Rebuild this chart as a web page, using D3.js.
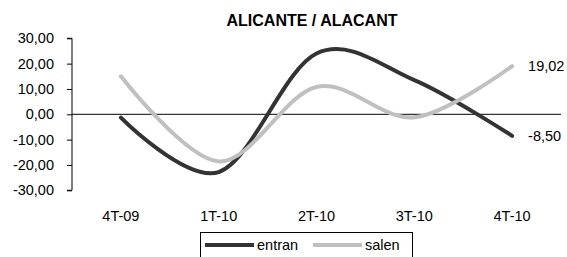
<!DOCTYPE html>
<html>
<head>
<meta charset="utf-8">
<script src="https://cdn.jsdelivr.net/npm/d3@7"></script>
<style>
  body { margin: 0; background: #fff; }
  text { font-family: "Liberation Sans", Arial, sans-serif; fill: #000; }
</style>
</head>
<body>
<div class="graph"></div>
<script>
var categories = ["4T-09", "1T-10", "2T-10", "3T-10", "4T-10"];
var entran = [-1.3, -22.8, 24.0, 13.5, -8.50];
var salen = [15.0, -18.6, 10.8, -1.2, 19.02];
var yTicks = [30, 20, 10, 0, -10, -20, -30];

var w = 567;
var h = 257;

var svg = d3.select("div.graph")
            .append("svg")
            .attr("width", w)
            .attr("height", h);

var x = d3.scaleBand().domain(categories).range([72, 561]);
var y = d3.scaleLinear().domain([-30, 30]).range([190.3, 38.3]);
var fmt = function(d){ return d3.format(".2f")(d).replace(".", ",").replace("−", "-"); };

// title
svg.append("text")
   .attr("x", 312)
   .attr("y", 26)
   .attr("text-anchor", "middle")
   .style("font-size", "16px")
   .style("font-weight", "bold")
   .text("ALICANTE / ALACANT");

// y axis
var yAxis = svg.append("g")
   .attr("transform", "translate(72,0)")
   .call(d3.axisLeft(y).tickValues(yTicks).tickSize(5).tickPadding(13).tickFormat(fmt));
yAxis.select(".domain").attr("stroke", "#000").attr("d", "M-5," + y(30) + "H0V" + y(-30) + "H-5");
yAxis.selectAll("text").style("font-size", "14.5px").style("font-family", "Liberation Sans, Arial, sans-serif");

// zero line
svg.append("line")
   .attr("x1", 72).attr("x2", 561)
   .attr("y1", y(0)).attr("y2", y(0))
   .attr("stroke", "#000").attr("stroke-width", 1);

// category labels
svg.selectAll("text.cat")
   .data(categories)
   .enter()
   .append("text")
   .attr("class", "cat")
   .attr("x", function(d){ return x(d) + x.bandwidth() / 2; })
   .attr("y", 221)
   .attr("text-anchor", "middle")
   .style("font-size", "14.5px")
   .text(function(d){ return d; });

var line = d3.line()
   .x(function(d, i){ return x(categories[i]) + x.bandwidth() / 2; })
   .y(function(d){ return y(d); })
   .curve(d3.curveCatmullRom.alpha(0));

var series = [
  { name: "entran", values: entran, color: "#333333" },
  { name: "salen", values: salen, color: "#c0c0c0" }
];

svg.selectAll("path.serie")
   .data(series)
   .enter()
   .append("path")
   .attr("class", "serie")
   .attr("fill", "none")
   .attr("stroke", function(d){ return d.color; })
   .attr("stroke-width", 4)
   .attr("stroke-linecap", "round")
   .attr("d", function(d){ return line(d.values); });

// last value labels
svg.selectAll("text.lbl")
   .data(series)
   .enter()
   .append("text")
   .attr("class", "lbl")
   .attr("x", x(categories[4]) + x.bandwidth() / 2 + 16)
   .attr("y", function(d){ return y(d.values[4]) + 5; })
   .style("font-size", "14.5px")
   .text(function(d){ return fmt(d.values[4]); });

// legend
var leg = svg.append("g");
leg.append("rect")
   .attr("x", 200.5).attr("y", 232.5)
   .attr("width", 212).attr("height", 40)
   .attr("fill", "#fff").attr("stroke", "#000");
var items = leg.selectAll("g.item")
   .data(series)
   .enter()
   .append("g")
   .attr("transform", function(d, i){ return "translate(" + (205 + i * 108) + ",245)"; });
items.append("line")
   .attr("x1", 0).attr("x2", 49)
   .attr("stroke", function(d){ return d.color; })
   .attr("stroke-width", 4);
items.append("text")
   .attr("x", 52)
   .attr("y", 5)
   .style("font-size", "14.5px")
   .text(function(d){ return d.name; });
</script>
</body>
</html>
